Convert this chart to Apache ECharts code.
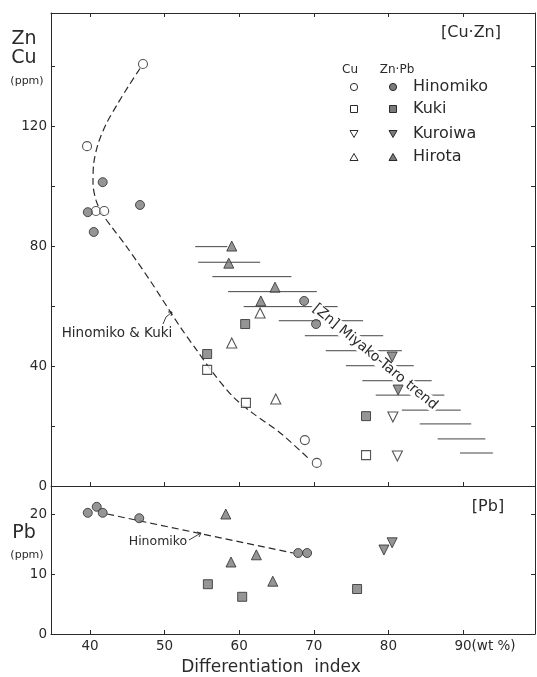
<!DOCTYPE html>
<html>
<head>
<meta charset="utf-8">
<title>Cu Zn Pb vs Differentiation index</title>
<script src="https://cdn.jsdelivr.net/npm/echarts@6/dist/echarts.min.js"></script>
<style>
  html, body { margin: 0; padding: 0; background: #fff; }
  #main { width: 537px; height: 677px; }
</style>
</head>
<body>
<div id="main"></div>
<script>
// ---- data ----
// top panel (Cu, Zn ppm)
var hinomikoCu = [[47.1, 140.7], [39.6, 113.3], [40.8, 91.7], [41.9, 91.7], [68.8, 15.3], [70.4, 7.7]];
var hinomikoZn = [[39.7, 91.3], [40.5, 84.7], [41.7, 101.3], [46.7, 93.7], [68.7, 61.7], [70.3, 54]];
var kukiCu = [[55.7, 38.7], [60.9, 27.7], [77.0, 10.3]];
var kukiZn = [[55.7, 44], [60.8, 54], [77.0, 23.3]];
var kuroiwaCu = [[80.6, 23], [81.2, 10]];
var kuroiwaZn = [[80.5, 43], [81.3, 32]];
var hirotaCu = [[62.8, 57.7], [59.0, 47.7], [64.9, 29]];
var hirotaZn = [[59.0, 80], [58.6, 74.3], [64.8, 66.3], [62.9, 61.7]];

// dashed Hinomiko & Kuki curve
var hinoKukiCurve = [[46.7, 139.2], [45.1, 133.1], [43.6, 127], [42.2, 120.9], [41.1, 114.2], [40.5, 107.6],
  [40.4, 100.9], [40.8, 95.3], [41.6, 90.9], [42.9, 86.4], [44.9, 79.8], [48.0, 68.7], [52.1, 53],
  [54.3, 45.3], [56.5, 37.7], [59.2, 29.7], [61.8, 24.3], [65.5, 17.7], [69.5, 8.7]];

// Miyako-Taro trend bars: [from, to, ppm]
var trendBars = [[54.1, 58.4, 79.8], [54.5, 62.8, 74.6], [56.4, 67.0, 69.8], [58.5, 70.4, 64.8],
  [60.6, 73.2, 59.8], [65.3, 76.6, 55.1], [68.8, 79.3, 50.1], [71.6, 81.8, 45.1], [74.3, 83.4, 40.1],
  [76.5, 85.8, 35.1], [78.3, 87.5, 30.3], [81.8, 89.7, 25.3], [84.2, 91.1, 20.7], [86.6, 93.0, 15.7],
  [89.6, 94.0, 11]];

// bottom panel (Pb ppm)
var hinomikoPb = [[39.7, 20.2], [40.9, 21.2], [41.7, 20.2], [46.6, 19.3], [67.9, 13.5], [69.1, 13.5]];
var hirotaPb = [[58.2, 20], [58.9, 12], [62.3, 13.2], [64.5, 8.8]];
var kukiPb = [[55.8, 8.3], [60.4, 6.2], [75.8, 7.5]];
var kuroiwaPb = [[79.4, 14], [80.5, 15.2]];
var pbTrend = [[42.3, 20], [67.2, 13.5]];

// axes
var xTicks = [40, 50, 60, 70, 80, 90];
var topTicks = [0, 20, 40, 60, 80, 100, 120, 140];
var topLabels = [0, 40, 80, 120];
var pbTicks = [0, 10, 20];
var legendNames = ['Hinomiko', 'Kuki', 'Kuroiwa', 'Hirota'];

// ---- styles ----
var ink = '#2a2a2a';
var grey = '#7a7a7a';
var font = 'DejaVu Sans';
var xMin = 34.77, xMax = 99.65;

function openStyle() { return { color: '#fff', borderColor: ink, borderWidth: 1.1 }; }
function fillStyle() { return { color: grey, borderColor: ink, borderWidth: 1 }; }

function pts(name, data, symbol, size, filled, grid, rotate) {
  return {
    name: name, type: 'scatter', data: data,
    xAxisIndex: grid === 0 ? 0 : 2, yAxisIndex: grid === 0 ? 0 : 2,
    symbol: symbol, symbolSize: size, symbolRotate: rotate || 0,
    itemStyle: filled ? fillStyle() : openStyle(),
    z: 5, emphasis: { disabled: true }
  };
}

function xAxisDef(grid, pos, withLabels) {
  return {
    type: 'value', gridIndex: grid, position: pos, min: xMin, max: xMax,
    axisLine: { show: true, onZero: false, lineStyle: { color: ink, width: 1 } },
    axisTick: { show: true, inside: true, length: 4, customValues: xTicks, lineStyle: { color: ink } },
    axisLabel: {
      show: withLabels, customValues: xTicks, margin: 5,
      color: ink, fontFamily: font, fontSize: 13.5,
      formatter: function (v) { return v === 90 ? '{w|90(wt %)}' : String(v); },
      rich: { w: { padding: [0, 0, 0, 44], color: ink, fontFamily: font, fontSize: 13.5 } }
    },
    splitLine: { show: false }
  };
}

function yAxisDef(grid, pos, max, ticks, labels) {
  return {
    type: 'value', gridIndex: grid, position: pos, min: 0, max: max,
    axisLine: { show: true, onZero: false, lineStyle: { color: ink, width: 1 } },
    axisTick: { show: true, inside: true, length: 4, customValues: ticks, lineStyle: { color: ink } },
    axisLabel: {
      show: !!labels, customValues: labels || ticks, margin: 4,
      color: ink, fontFamily: font, fontSize: 13.5
    },
    splitLine: { show: false }
  };
}

var chart = echarts.init(document.getElementById('main'), null, { renderer: 'canvas' });

// legend pieces (hand-made two-column legend)
var legendRowsY = [87, 109, 134, 157];
var legendGraphics = [];
legendNames.forEach(function (n, i) {
  var y = legendRowsY[i];
  var open = { fill: '#fff', stroke: ink, lineWidth: 1 };
  var full = { fill: grey, stroke: ink, lineWidth: 1 };
  if (i === 0) {
    legendGraphics.push({ type: 'circle', shape: { cx: 354, cy: y, r: 3.6 }, style: open });
    legendGraphics.push({ type: 'circle', shape: { cx: 393, cy: y, r: 3.6 }, style: full });
  } else if (i === 1) {
    legendGraphics.push({ type: 'rect', shape: { x: 350.5, y: y - 3.5, width: 7, height: 7 }, style: open });
    legendGraphics.push({ type: 'rect', shape: { x: 389.5, y: y - 3.5, width: 7, height: 7 }, style: full });
  } else if (i === 2) {
    legendGraphics.push({ type: 'polygon', shape: { points: [[350, y - 3.5], [358, y - 3.5], [354, y + 3.5]] }, style: open });
    legendGraphics.push({ type: 'polygon', shape: { points: [[389, y - 3.5], [397, y - 3.5], [393, y + 3.5]] }, style: full });
  } else {
    legendGraphics.push({ type: 'polygon', shape: { points: [[350, y + 3.5], [358, y + 3.5], [354, y - 3.5]] }, style: open });
    legendGraphics.push({ type: 'polygon', shape: { points: [[389, y + 3.5], [397, y + 3.5], [393, y - 3.5]] }, style: full });
  }
  legendGraphics.push({
    type: 'text', x: 413, y: y,
    style: { text: n, fill: ink, font: '16px "' + font + '"', verticalAlign: 'middle' }
  });
});

function label(text, x, y, size, extra) {
  var g = {
    type: 'text', x: x, y: y,
    style: { text: text, fill: ink, font: size + 'px "' + font + '"', align: 'center', verticalAlign: 'middle' }
  };
  if (extra) { for (var k in extra) g[k] = extra[k]; }
  return g;
}

var graphics = legendGraphics.concat([
  label('Zn', 24, 39, 19),
  label('Cu', 24, 58, 19),
  label('(ppm)', 27, 81, 11),
  label('Pb', 24, 533, 19),
  label('(ppm)', 27, 555, 11),
  label('[Cu·Zn]', 471, 33, 16),
  label('Cu', 350, 70, 12),
  label('Zn·Pb', 397, 70, 12),
  label('[Pb]', 488, 507, 16),
  label('Hinomiko & Kuki', 117, 333, 13.5),
  label('Hinomiko', 158, 542, 12.5),
  label('Differentiation  index', 271, 668, 17),
  {
    type: 'text', x: 375, y: 357, rotation: -0.69, z: 3,
    style: {
      text: '[Zn] Miyako-Taro trend', fill: ink, font: '14px "' + font + '"',
      align: 'center', verticalAlign: 'middle', backgroundColor: '#fff', padding: [0, 2]
    }
  },
  // small pointer arrows
  { type: 'polyline', shape: { points: [[163, 324], [166, 317], [172, 312]] }, style: { stroke: ink, lineWidth: 0.9, fill: null } },
  { type: 'polyline', shape: { points: [[168, 312], [172, 312], [171, 316]] }, style: { stroke: ink, lineWidth: 0.9, fill: null } },
  { type: 'line', shape: { x1: 189, y1: 540, x2: 201, y2: 533 }, style: { stroke: ink, lineWidth: 0.9 } },
  { type: 'polyline', shape: { points: [[197, 532], [201, 533], [199, 537]] }, style: { stroke: ink, lineWidth: 0.9, fill: null } }
]);

var option = {
  animation: false,
  backgroundColor: '#fff',
  grid: [
    { left: 51, top: 13, width: 484, height: 473 },
    { left: 51, top: 486, width: 484, height: 148 }
  ],
  xAxis: [
    xAxisDef(0, 'bottom', false),
    xAxisDef(0, 'top', false),
    xAxisDef(1, 'bottom', true)
  ],
  yAxis: [
    yAxisDef(0, 'left', 157.7, topTicks, topLabels),
    yAxisDef(0, 'right', 157.7, topTicks, null),
    yAxisDef(1, 'left', 24.67, pbTicks, pbTicks),
    yAxisDef(1, 'right', 24.67, [10, 20], null)
  ],
  graphic: { elements: graphics },
  series: [
    {
      name: 'trend', type: 'custom', xAxisIndex: 0, yAxisIndex: 0, z: 1,
      data: trendBars, encode: { x: [0, 1], y: 2 },
      renderItem: function (params, api) {
        var a = api.coord([api.value(0), api.value(2)]);
        var b = api.coord([api.value(1), api.value(2)]);
        return { type: 'line', shape: { x1: a[0], y1: a[1], x2: b[0], y2: b[1] }, style: { stroke: '#444', lineWidth: 1 } };
      }
    },
    {
      name: 'Hinomiko & Kuki', type: 'line', data: hinoKukiCurve, smooth: 0.3,
      xAxisIndex: 0, yAxisIndex: 0, symbol: 'none', z: 2,
      lineStyle: { color: ink, width: 1.2, type: [7, 4] }
    },
    pts('Hinomiko Cu', hinomikoCu, 'circle', 9, false, 0),
    pts('Hinomiko Zn', hinomikoZn, 'circle', 9, true, 0),
    pts('Kuki Cu', kukiCu, 'rect', 9, false, 0),
    pts('Kuki Zn', kukiZn, 'rect', 9, true, 0),
    pts('Kuroiwa Cu', kuroiwaCu, 'triangle', 10, false, 0, 180),
    pts('Kuroiwa Zn', kuroiwaZn, 'triangle', 10, true, 0, 180),
    pts('Hirota Cu', hirotaCu, 'triangle', 10, false, 0),
    pts('Hirota Zn', hirotaZn, 'triangle', 10, true, 0),
    {
      name: 'Hinomiko Pb trend', type: 'line', data: pbTrend,
      xAxisIndex: 2, yAxisIndex: 2, symbol: 'none', z: 2,
      lineStyle: { color: ink, width: 1.2, type: [7, 4] }
    },
    pts('Hinomiko Pb', hinomikoPb, 'circle', 9, true, 1),
    pts('Hirota Pb', hirotaPb, 'triangle', 10, true, 1),
    pts('Kuki Pb', kukiPb, 'rect', 9, true, 1),
    pts('Kuroiwa Pb', kuroiwaPb, 'triangle', 10, true, 1, 180)
  ]
};
chart.setOption(option);
</script>
</body>
</html>
